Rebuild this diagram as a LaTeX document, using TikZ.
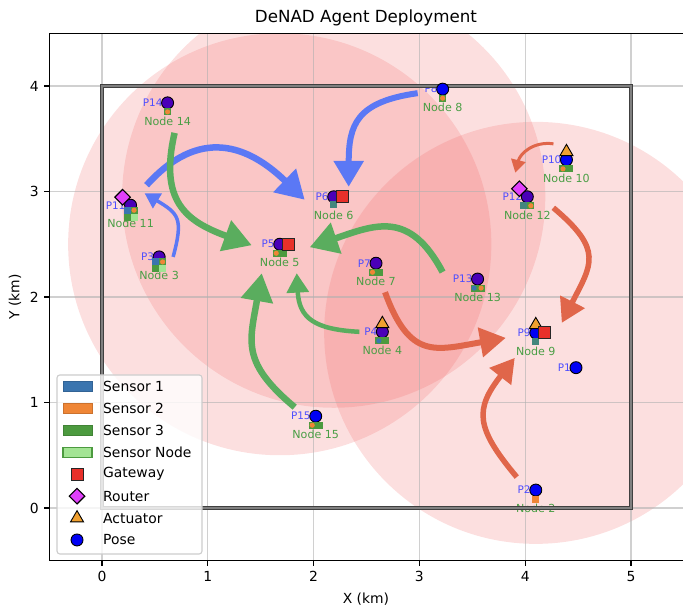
\documentclass[tikz,border=0pt]{standalone}
\usepackage{fontspec}
\setmainfont{DejaVu Sans}
\usetikzlibrary{arrows.meta,shapes.geometric,calc}
\pgfdeclarelayer{background}
\pgfdeclarelayer{labels}
\pgfsetlayers{background,labels,main}

\definecolor{sensone}{HTML}{3B75AF}
\definecolor{senstwo}{HTML}{EF8636}
\definecolor{sensthree}{HTML}{4C9A3F}
\definecolor{sensnode}{HTML}{A3E494}
\definecolor{gatecol}{HTML}{E8302A}
\definecolor{routecol}{HTML}{E040FB}
\definecolor{actcol}{HTML}{F0A030}
\definecolor{posecol}{HTML}{0000F5}
\definecolor{posedeep}{HTML}{4A00B8}
\definecolor{flowblue}{HTML}{5B78F5}
\definecolor{flowgreen}{HTML}{5AAD5E}
\definecolor{flowred}{HTML}{E0664A}
\definecolor{rangecol}{HTML}{F06060}
\definecolor{nodetext}{HTML}{4A9E45}
\definecolor{plabcol}{HTML}{4D4DFF}
\definecolor{gridcol}{HTML}{B0B0B0}
\colorlet{sensteal}{sensone!55!sensthree}

\newcommand{\sensorcell}[4]{\fill[#2] ($(#1)+(#3pt,#4pt)$) +(-3.5pt,-3.5pt) rectangle +(3.5pt,3.5pt);}
\newcommand{\sensordot}[4]{\fill[#2] ($(#1)+(#3pt,#4pt)$) circle[radius=2.6pt];}
\newcommand{\ticksize}{\fontsize{13.9}{16}\selectfont}

\tikzset{
  pose/.style={circle, draw=black, line width=0.9pt, minimum size=12pt, inner sep=0pt},
  gateway/.style={rectangle, draw=black!85, line width=0.9pt, fill=gatecol, minimum size=12pt, inner sep=0pt},
  router/.style={diamond, draw=black, line width=1.1pt, fill=routecol, minimum size=16pt, inner sep=0pt},
  actuator/.style={regular polygon, regular polygon sides=3, draw=black, line width=0.9pt, fill=actcol, minimum size=15pt, inner sep=0pt},
  plabel/.style={text=plabcol, font=\fontsize{10.4}{12}\selectfont, anchor=east, inner sep=0pt},
  nlabel/.style={text=nodetext, font=\fontsize{11.1}{13}\selectfont, inner sep=0pt},
  coverage/.style={fill=rangecol, fill opacity=0.2},
  gridline/.style={draw=gridcol, line width=1.1pt, opacity=0.6},
  fieldedge/.style={draw=black!75, line width=1.4pt, double=black!50, double distance=1.2pt},
  axisline/.style={line width=1.1pt, black},
  ticklabel/.style={font=\ticksize, inner sep=0pt},
  legendtext/.style={font=\ticksize, inner sep=0pt, anchor=west},
  flowarrow/.style={line width=#1, -{Triangle[length=0pt 4.3, width=0pt 4.8]}},
  legendbox/.style={fill=white, fill opacity=0.8, draw=black!20, line width=1.1pt, rounded corners=2.8pt},
  swatch/.style={minimum width=29pt, minimum height=10pt, inner sep=0pt, line width=0.8pt},
}

\begin{document}
\begin{tikzpicture}[x=105.8pt, y=105.5pt]
\useasboundingbox (-0.9641,-0.9573) rectangle (5.4915,4.8152);

% agents: number / x / y / pose colour
\foreach \i/\x/\y/\c in {1/4.48/1.33/posecol, 2/4.10/0.17/posecol, 3/0.54/2.38/posedeep,
    4/2.65/1.67/posedeep, 5/1.68/2.50/posedeep, 6/2.19/2.95/posedeep, 7/2.59/2.32/posedeep,
    8/3.22/3.97/posecol, 9/4.10/1.66/posecol, 10/4.39/3.30/posecol, 11/0.27/2.87/posedeep,
    12/4.02/2.95/posedeep, 13/3.55/2.17/posedeep, 14/0.62/3.84/posedeep, 15/2.02/0.87/posecol}{
  \node[pose, fill=\c] (p\i) at (\x,\y) {};
  \begin{pgfonlayer}{labels}
    \node[plabel] (lp\i) at ($(p\i)+(-5pt,0)$) {P\i};
  \end{pgfonlayer}
}
% node names (P1 carries none)
\begin{pgfonlayer}{labels}
  \foreach \i in {2,...,15}
    \node[nlabel] (ln\i) at ($(p\i)+(0,-18.5pt)$) {Node \i};
\end{pgfonlayer}

% coverage of the gateways and the grid
\begin{pgfonlayer}{background}
  \begin{scope}
    \clip (-0.5,-0.5) rectangle (5.5,4.5);
    \foreach \g in {5,6,9} \fill[coverage] (p\g) circle[radius=2];
    \foreach \t in {0,...,5} \draw[gridline] (\t,-0.5) -- (\t,4.5);
    \foreach \t in {0,...,4} \draw[gridline] (-0.5,\t) -- (5.5,\t);
  \end{scope}
\end{pgfonlayer}

% flows: source / tail offset / target / tip offset / colour / width / out / in / handle
\begin{pgfonlayer}{labels}
  \foreach \s/\tx/\ty/\d/\hx/\hy/\col/\w/\o/\n/\a in {
      11/16/20/6/-29/-3/flowblue/6.5/48/136/79,
      8/-25/-4/6/15/10/flowblue/6/188/90/62,
      3/14/0/11/14/12/flowblue/3.5/75/-31/40,
      14/7/-30/5/-28/-1/flowgreen/6.5/-103/160/70,
      13/-35/7/5/30/-3/flowgreen/6.5/118/19/70,
      4/-23/0/5/17/-29/flowgreen/4.5/177/-87/45,
      15/-21/9/5/-18/-29/flowgreen/6.5/140/-100/70,
      10/-13/16/12/-12/24/flowred/3/172/76/20,
      12/26/-11/9/26/10/flowred/5.5/-40/63/66,
      7/9/-29/9/-30/-5/flowred/6/-70/190/72,
      2/-19/13/9/-21/-25/flowred/5.5/130/232/65}{
    \coordinate (tl\s) at ($(p\s)+(\tx pt,\ty pt)$);
    \coordinate (hd\s) at ($(p\d)+(\hx pt,\hy pt)$);
    \draw[flowarrow=\w pt, color=\col] (tl\s) .. controls +(\o:\a pt) and +(\n:\a pt) .. (hd\s);
  }
  \draw[fieldedge] (0,0) rectangle (5,4);
\end{pgfonlayer}

% sensors below each pose
\sensorcell{p2}{senstwo}{0}{-9}
\sensorcell{p3}{sensone}{-3.5}{-5} \sensorcell{p3}{sensthree}{3.5}{-5}
\sensorcell{p3}{sensthree}{-3.5}{-12} \sensorcell{p3}{sensnode}{3.5}{-12} \sensordot{p3}{senstwo}{3.5}{-5}
\sensorcell{p4}{sensthree}{-3.5}{-9} \sensorcell{p4}{sensthree}{3.5}{-9} \sensordot{p4}{sensone}{-3.5}{-9}
\sensorcell{p5}{sensthree}{-3.5}{-9} \sensorcell{p5}{sensthree}{3.5}{-9} \sensordot{p5}{senstwo}{-3.5}{-9}
\sensorcell{p6}{sensteal}{0}{-8}
\sensorcell{p7}{sensthree}{-3.5}{-9} \sensorcell{p7}{sensthree}{3.5}{-9} \sensordot{p7}{senstwo}{-3.5}{-9}
\sensorcell{p8}{sensthree}{0}{-9} \sensordot{p8}{senstwo}{0}{-9}
\sensorcell{p9}{sensteal}{0}{-9}
\sensorcell{p10}{sensthree}{-3.5}{-9} \sensorcell{p10}{sensthree}{3.5}{-9} \sensordot{p10}{senstwo}{-3.5}{-9}
\sensorcell{p11}{sensone}{-3.5}{-5} \sensorcell{p11}{sensthree}{3.5}{-5}
\sensorcell{p11}{sensthree}{-3.5}{-12} \sensorcell{p11}{sensnode}{3.5}{-12} \sensordot{p11}{senstwo}{3.5}{-5}
\sensorcell{p12}{sensteal}{-3.5}{-9} \sensorcell{p12}{sensthree}{3.5}{-9} \sensordot{p12}{senstwo}{3.5}{-9}
\sensorcell{p13}{sensthree}{-3.5}{-9} \sensorcell{p13}{sensthree}{3.5}{-9}
\sensordot{p13}{sensone}{-3.5}{-9} \sensordot{p13}{senstwo}{3.5}{-9}
\sensorcell{p14}{sensthree}{0}{-9} \sensordot{p14}{senstwo}{0}{-9}
\sensorcell{p15}{sensthree}{-3.5}{-9} \sensorcell{p15}{sensthree}{3.5}{-9} \sensordot{p15}{senstwo}{-3.5}{-9}

% actuators, routers, gateways
\foreach \i in {4,9,10} \node[actuator] (a\i) at ($(p\i)+(0,8pt)$) {};
\foreach \i in {11,12} \node[router] (r\i) at ($(p\i)+(-8pt,8pt)$) {};
\foreach \i in {5,6,9} \node[gateway] (g\i) at ($(p\i)+(9pt,0)$) {};

% legend
\draw[legendbox] (-0.425,-0.436) rectangle (0.945,1.261);
\foreach \lab [count=\r from 0] in {Sensor 1,Sensor 2,Sensor 3,Sensor Node,Gateway,Router,Actuator,Pose}
  \node[legendtext] (lg\r) at (0.009,1.150-0.2076*\r) {\lab};
\node[swatch, fill=sensone, draw=sensone!85!black] (sw1) at (-0.232,1.150) {};
\node[swatch, fill=senstwo, draw=senstwo!85!black] (sw2) at (-0.232,0.942) {};
\node[swatch, fill=sensthree, draw=sensthree!85!black] (sw3) at (-0.232,0.735) {};
\node[swatch, fill=sensnode, draw=sensthree, line width=1.3pt] (sw4) at (-0.232,0.527) {};
\node[gateway] (lgw) at (-0.236,0.319) {};
\node[router] (lrt) at (-0.236,0.112) {};
\node[actuator] (lac) at (-0.236,-0.096) {};
\node[pose, fill=posecol] (lps) at (-0.236,-0.303) {};

% axes
\draw[axisline] (-0.5,-0.5) rectangle (5.5,4.5);
\foreach \t in {0,...,5}
  \draw[axisline] (\t,-0.5) -- ++(0,-4.9pt) node[ticklabel, anchor=north, yshift=-4.9pt] (xt\t) {\t};
\foreach \t in {0,...,4}
  \draw[axisline] (-0.5,\t) -- ++(-4.9pt,0) node[ticklabel, anchor=east, xshift=-4.9pt] (yt\t) {\t};
\node[ticklabel] (xlab) at (2.495,-0.863) {X (km)};
\node[ticklabel, rotate=90] (ylab) at (-0.822,2.0) {Y (km)};
\node[font=\fontsize{16.7}{19}\selectfont, inner sep=0pt] (title) at (2.495,4.645) {DeNAD Agent Deployment};
\end{tikzpicture}
\end{document}
